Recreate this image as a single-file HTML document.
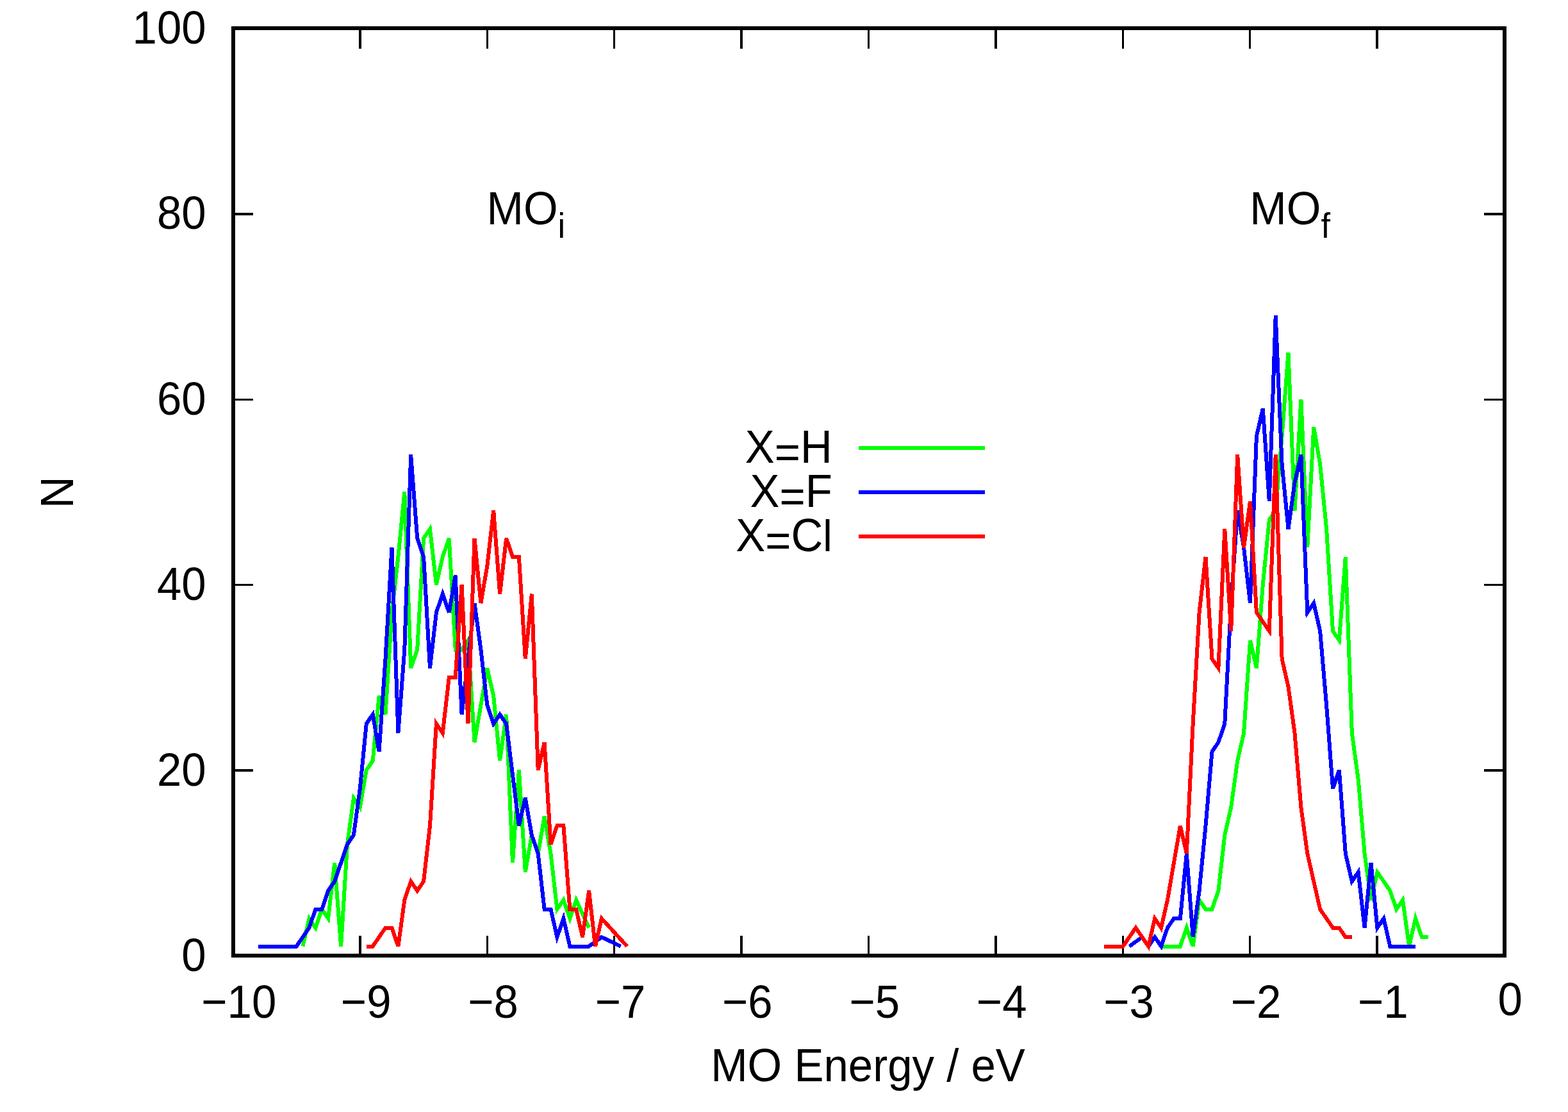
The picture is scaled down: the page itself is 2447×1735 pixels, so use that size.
<!DOCTYPE html>
<html lang="en">
<head>
<meta charset="utf-8">
<title>MO Energy histogram</title>
<style>
html,body{margin:0;padding:0;background:#fff;}
body{width:2447px;height:1735px;}
svg{display:block;}
text{font-family:"Liberation Sans",Arial,Helvetica,sans-serif;font-size:69px;fill:#000;font-kerning:none;}
.d{fill:none;stroke-width:6;stroke-linejoin:miter;stroke-miterlimit:3.8;stroke-linecap:butt;}
.t{stroke:#000;stroke-width:3.5;fill:none;}
</style>
</head>
<body>
<svg width="2447" height="1735" viewBox="0 0 2447 1735" role="img" aria-label="Histogram of MO energies for X=H, X=F and X=Cl">
<rect x="0" y="0" width="2447" height="1735" fill="#ffffff"/>
<g class="t" shape-rendering="crispEdges">
<path d="M561.90 1491.00V1460.00 M561.90 44.00V76.00"/>
<path d="M760.30 1491.00V1460.00 M760.30 44.00V76.00"/>
<path d="M958.70 1491.00V1460.00 M958.70 44.00V76.00"/>
<path d="M1157.10 1491.00V1460.00 M1157.10 44.00V76.00"/>
<path d="M1355.50 1491.00V1460.00 M1355.50 44.00V76.00"/>
<path d="M1553.90 1491.00V1460.00 M1553.90 44.00V76.00"/>
<path d="M1752.30 1491.00V1460.00 M1752.30 44.00V76.00"/>
<path d="M1950.70 1491.00V1460.00 M1950.70 44.00V76.00"/>
<path d="M2149.10 1491.00V1460.00 M2149.10 44.00V76.00"/>
<path d="M364.00 1202.05H395.00 M2348.00 1202.05H2316.00"/>
<path d="M364.00 912.65H395.00 M2348.00 912.65H2316.00"/>
<path d="M364.00 623.25H395.00 M2348.00 623.25H2316.00"/>
<path d="M364.00 333.85H395.00 M2348.00 333.85H2316.00"/>
</g>
<g>
<text transform="translate(321.70 1514.90) scale(1 1.055)" text-anchor="end">0</text>
<text transform="translate(321.70 1225.50) scale(1 1.055)" text-anchor="end">20</text>
<text transform="translate(321.70 936.10) scale(1 1.055)" text-anchor="end">40</text>
<text transform="translate(321.70 646.70) scale(1 1.055)" text-anchor="end">60</text>
<text transform="translate(321.70 357.30) scale(1 1.055)" text-anchor="end">80</text>
<text transform="translate(321.70 67.90) scale(1 1.055)" text-anchor="end">100</text>
</g>
<g>
<text transform="translate(372.80 1587.60) scale(1 1.055)" text-anchor="middle">−10</text>
<text transform="translate(571.20 1587.60) scale(1 1.055)" text-anchor="middle">−9</text>
<text transform="translate(769.60 1587.60) scale(1 1.055)" text-anchor="middle">−8</text>
<text transform="translate(968.00 1587.60) scale(1 1.055)" text-anchor="middle">−7</text>
<text transform="translate(1166.40 1587.60) scale(1 1.055)" text-anchor="middle">−6</text>
<text transform="translate(1364.80 1587.60) scale(1 1.055)" text-anchor="middle">−5</text>
<text transform="translate(1563.20 1587.60) scale(1 1.055)" text-anchor="middle">−4</text>
<text transform="translate(1761.60 1587.60) scale(1 1.055)" text-anchor="middle">−3</text>
<text transform="translate(1960.00 1587.60) scale(1 1.055)" text-anchor="middle">−2</text>
<text transform="translate(2158.40 1587.60) scale(1 1.055)" text-anchor="middle">−1</text>
<text transform="translate(2356.80 1584.00) scale(1 1.055)" text-anchor="middle">0</text>
</g>
<g>
<text transform="translate(1354.50 1687.00) scale(1 1.04)" text-anchor="middle">MO Energy / eV</text>
<text transform="translate(114.00 768.45) rotate(-90) scale(1 1.055)" text-anchor="middle">N</text>
</g>
<g>
<text transform="translate(759.45 349.90) scale(1 1.055)">MO<tspan dy="19.72" style="font-size:52.32px">i</tspan></text>
<text transform="translate(1950.30 349.90) scale(1 1.055)">MO<tspan dy="19.72" style="font-size:52.32px">f</tspan></text>
</g>
<g class="d" shape-rendering="crispEdges">
<polyline stroke="#00ff00" points="472.5,1476.5 482.5,1433.1 492.4,1447.6 502.3,1418.7 512.2,1433.1 522.2,1346.3 532.1,1476.5 542.0,1317.4 551.9,1245.0 561.8,1259.5 571.8,1201.6 581.7,1187.1 591.6,1085.8 601.5,1114.8 611.5,955.6 621.4,868.8 631.3,767.5 641.2,1042.4 651.2,1013.5 661.1,839.9 671.0,825.4 680.9,912.2 690.8,868.8 700.8,839.9 710.7,1013.5 720.6,1013.5 730.5,999.0 740.5,1158.2 750.4,1100.3 760.3,1042.4 770.2,1085.8 780.1,1187.1 790.1,1114.8 800.0,1346.3 809.9,1201.6 819.8,1360.8 829.8,1302.9 839.7,1331.8 849.6,1274.0 859.5,1331.8 869.4,1418.7 879.4,1404.2 889.3,1433.1 899.2,1404.2 919.1,1447.6"/>
<polyline stroke="#00ff00" points="1812.1,1476.5 1841.9,1476.5 1851.8,1447.6 1861.7,1476.5 1871.6,1404.2 1881.5,1418.7 1891.5,1418.7 1901.4,1389.7 1911.3,1302.9 1921.2,1259.5 1931.2,1187.1 1941.1,1143.7 1951.0,999.0 1960.9,1042.4 1970.8,912.2 1980.8,810.9 1990.7,796.4 2000.6,680.7 2010.5,550.4 2020.5,796.4 2030.4,622.8 2040.3,854.3 2050.2,666.2 2060.1,724.1 2070.1,825.4 2080.0,984.5 2089.9,999.0 2099.8,868.8 2109.8,1143.7 2119.7,1216.1 2129.6,1331.8 2139.5,1404.2 2149.4,1360.8 2159.4,1375.2 2169.3,1389.7 2179.2,1418.7 2189.1,1404.2 2199.1,1476.5 2209.0,1433.1 2218.9,1462.1 2228.8,1462.1"/>
<polyline stroke="#0000ff" points="403.1,1476.5 462.6,1476.5 472.5,1462.1 482.5,1447.6 492.4,1418.7 502.3,1418.7 512.2,1389.7 522.2,1375.2 532.1,1346.3 542.0,1317.4 551.9,1302.9 561.8,1230.5 571.8,1129.2 581.7,1114.8 591.6,1172.7 601.5,1028.0 611.5,854.3 621.4,1143.7 631.3,1013.5 641.2,709.6 651.2,839.9 661.1,868.8 671.0,1042.4 680.9,955.6 690.8,926.7 700.8,955.6 710.7,897.7 720.6,1114.8 730.5,1028.0 740.5,941.1 750.4,1013.5 760.3,1100.3 770.2,1129.2 780.1,1114.8 790.1,1129.2 800.0,1208.8 809.9,1288.4 819.8,1245.0 829.8,1302.9 839.7,1331.8 849.6,1418.7 859.5,1418.7 869.4,1462.1 879.4,1433.1 889.3,1476.5 919.1,1476.5 938.9,1462.1 968.7,1476.5"/>
<polyline stroke="#0000ff" points="1762.5,1476.5 1782.3,1462.1 1792.2,1476.5 1802.2,1462.1 1812.1,1476.5 1822.0,1447.6 1831.9,1433.1 1841.9,1433.1 1851.8,1331.8 1861.7,1462.1 1871.6,1389.7 1881.5,1288.4 1891.5,1172.7 1901.4,1158.2 1911.3,1129.2 1921.2,941.1 1931.2,796.4 1941.1,854.3 1951.0,941.1 1960.9,680.7 1970.8,637.3 1980.8,782.0 1990.7,492.6 2000.6,724.1 2010.5,825.4 2020.5,753.0 2030.4,709.6 2040.3,955.6 2050.2,941.1 2060.1,984.5 2070.1,1100.3 2080.0,1230.5 2089.9,1201.6 2099.8,1331.8 2109.8,1375.2 2119.7,1360.8 2129.6,1447.6 2139.5,1346.3 2149.4,1447.6 2159.4,1433.1 2169.3,1476.5 2209.0,1476.5"/>
<polyline stroke="#ff0000" points="571.8,1476.5 581.7,1476.5 591.6,1462.1 601.5,1447.6 611.5,1447.6 621.4,1476.5 631.3,1404.2 641.2,1375.2 651.2,1389.7 661.1,1375.2 671.0,1288.4 680.9,1129.2 690.8,1143.7 700.8,1056.9 710.7,1056.9 720.6,912.2 730.5,1129.2 740.5,839.9 750.4,941.1 760.3,883.3 770.2,796.4 780.1,926.7 790.1,839.9 800.0,868.8 809.9,868.8 819.8,1028.0 829.8,926.7 839.7,1201.6 849.6,1158.2 859.5,1317.4 869.4,1288.4 879.4,1288.4 889.3,1418.7 899.2,1418.7 909.1,1462.1 919.1,1389.7 929.0,1476.5 938.9,1433.1 978.6,1476.5"/>
<polyline stroke="#ff0000" points="1722.8,1476.5 1752.5,1476.5 1772.4,1447.6 1792.2,1476.5 1802.2,1433.1 1812.1,1447.6 1822.0,1404.2 1831.9,1346.3 1841.9,1288.4 1851.8,1331.8 1861.7,1129.2 1871.6,955.6 1881.5,868.8 1891.5,1028.0 1901.4,1042.4 1911.3,825.4 1921.2,984.5 1931.2,709.6 1941.1,854.3 1951.0,782.0 1960.9,955.6 1970.8,970.1 1980.8,984.5 1990.7,709.6 2000.6,1028.0 2010.5,1071.4 2020.5,1143.7 2030.4,1259.5 2040.3,1331.8 2050.2,1375.2 2060.1,1418.7 2070.1,1433.1 2080.0,1447.6 2089.9,1447.6 2099.8,1462.1 2109.8,1462.1"/>
</g>
<g>
<text transform="translate(1298.90 721.80) scale(1 1.055)" text-anchor="end">X<tspan dy="7.30">=</tspan><tspan dy="-7.30">H</tspan></text>
<text transform="translate(1298.90 790.80) scale(1 1.055)" text-anchor="end">X<tspan dy="7.30">=</tspan><tspan dy="-7.30">F</tspan></text>
<text transform="translate(1298.90 859.80) scale(1 1.055)" text-anchor="end">X<tspan dy="7.30">=</tspan><tspan dy="-7.30">C<tspan style="font-size:65.40px">l</tspan></tspan></text>
</g>
<g class="d" shape-rendering="crispEdges">
<path stroke="#00ff00" d="M1340.00 699.00H1537.00"/>
<path stroke="#0000ff" d="M1340.00 768.00H1537.00"/>
<path stroke="#ff0000" d="M1340.00 837.00H1537.00"/>
</g>
<rect x="364.00" y="44.00" width="1984.00" height="1447.00" fill="none" stroke="#000" stroke-width="6" shape-rendering="crispEdges"/>
</svg>
</body>
</html>
